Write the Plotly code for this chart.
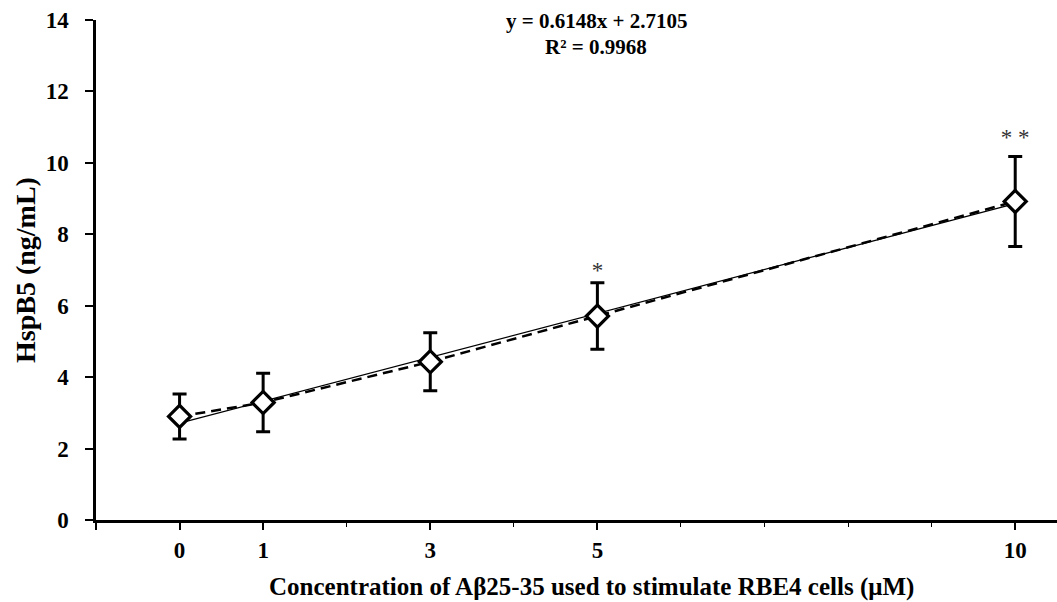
import plotly.graph_objects as go

# Data
conc = [0, 1, 3, 5, 10]
hspb5 = [2.90, 3.29, 4.43, 5.71, 8.92]
err = [0.63, 0.82, 0.81, 0.93, 1.26]
slope = 0.6148
intercept = 2.7105
tick_vals = [-1, 0, 1, 3, 5, 10]
tick_text = ["", "0", "1", "3", "5", "10"]
sig_x = [5, 10]
sig_y = [6.95, 10.65]
sig_text = ["*", "* *"]

FONT = "Liberation Serif"

fit_x = [conc[0], conc[-1]]
fit_y = [slope * v + intercept for v in fit_x]

fig = go.Figure()
fig.add_trace(go.Scatter(
    x=fit_x, y=fit_y, mode="lines",
    line=dict(color="black", width=1.3),
    showlegend=False, hoverinfo="skip"))
fig.add_trace(go.Scatter(
    x=conc, y=hspb5, mode="lines+markers",
    line=dict(color="black", width=2.5, dash="10px,6px"),
    marker=dict(symbol="diamond", size=17, color="white",
                line=dict(color="black", width=3.2)),
    error_y=dict(type="data", array=err, visible=True,
                 color="black", thickness=3, width=7),
    showlegend=False))
fig.add_trace(go.Scatter(
    x=sig_x, y=sig_y, mode="text", text=sig_text,
    textfont=dict(family=FONT, size=23, color="#333333"),
    showlegend=False, hoverinfo="skip"))

L, T, B, W, H = 96, 20, 82, 1057, 602
PW, PH = W - L, H - T - B

fig.update_layout(
    width=W, height=H,
    margin=dict(l=L, r=0, t=T, b=B),
    plot_bgcolor="white", paper_bgcolor="white",
    font=dict(family=FONT, color="black"),
    xaxis=dict(range=[-1, 10.5], tickmode="array", tickvals=tick_vals,
               ticktext=tick_text, ticks="outside", ticklen=7, tickwidth=2,
               tickcolor="black", showline=True, linecolor="black",
               linewidth=2.5, showgrid=False, zeroline=False,
               tickfont=dict(family=FONT, size=23, color="black", weight="bold"),
               ticklabelstandoff=1,
               minor=dict(dtick=1, tick0=0, ticks="outside", ticklen=4,
                          tickwidth=1, tickcolor="black", showgrid=False)),
    yaxis=dict(range=[0, 14], tickvals=[0, 2, 4, 6, 8, 10, 12, 14],
               ticks="outside", ticklen=8, tickwidth=2, tickcolor="black",
               showline=True, linecolor="black", linewidth=2.5,
               showgrid=False, zeroline=False,
               tickfont=dict(family=FONT, size=23, color="black", weight="bold"),
               ticklabelstandoff=12),
    annotations=[
        dict(text="<b>Concentration of Aβ25-35 used to stimulate RBE4 cells (μM)</b>",
             xref="paper", yref="paper", x=(591 - L) / PW, y=-(587 - (H - B)) / PH,
             xanchor="center", yanchor="middle", showarrow=False,
             font=dict(family=FONT, size=25, color="black")),
        dict(text="<b>HspB5 (ng/mL)</b>", textangle=-90,
             xref="paper", yref="paper", x=-(L - 25) / PW, y=0.5,
             xanchor="center", yanchor="middle", showarrow=False,
             font=dict(family=FONT, size=28, color="black")),
        dict(text="<b>y = 0.6148x + 2.7105</b>",
             xref="paper", yref="paper", x=(596 - L) / PW, y=((H - B) - 21) / PH,
             xanchor="center", yanchor="middle", showarrow=False,
             font=dict(family=FONT, size=21, color="black")),
        dict(text="<b>R² = 0.9968</b>",
             xref="paper", yref="paper", x=(596 - L) / PW, y=((H - B) - 47) / PH,
             xanchor="center", yanchor="middle", showarrow=False,
             font=dict(family=FONT, size=21, color="black")),
    ],
)

fig.write_html("out.html", config={"displayModeBar": False},
               post_script="document.body.style.margin='0';document.body.style.overflow='hidden';")
